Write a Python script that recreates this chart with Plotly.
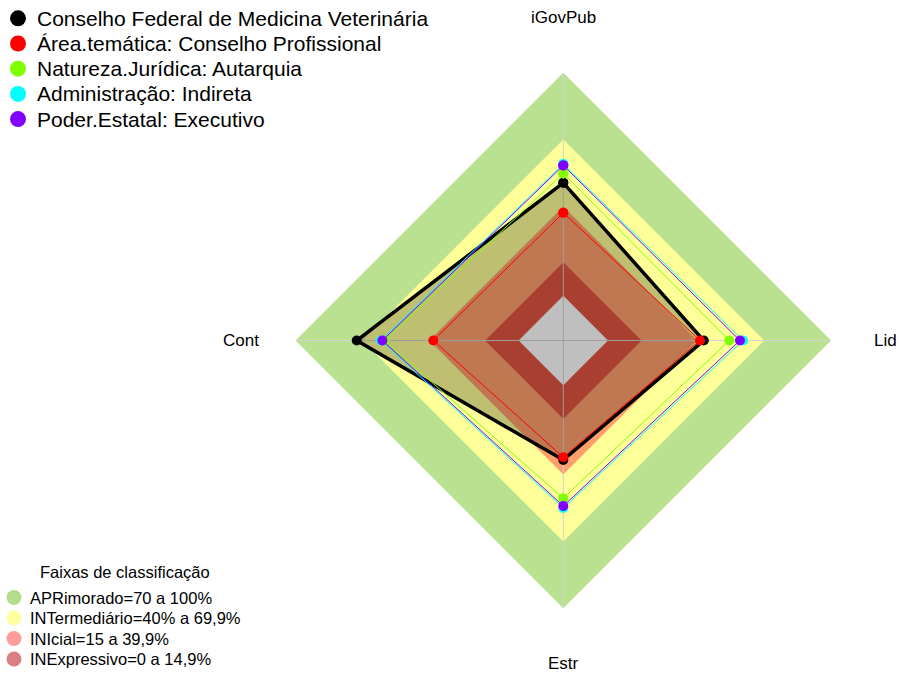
import plotly.graph_objects as go

axes = ["iGovPub", "Lid", "Estr", "Cont"]

series_names = [
    "Conselho Federal de Medicina Veterinária",
    "Área.temática: Conselho Profissional",
    "Natureza.Jurídica: Autarquia",
    "Administração: Indireta",
    "Poder.Estatal: Executivo",
]
cfmv = [50.6, 42.9, 33.5, 72.5]
area_tematica = [37.2, 41.2, 32.3, 38.2]
natureza = [54.8, 54.3, 50.7, 60.0]
administracao = [59.0, 60.5, 55.0, 61.7]
poder = [58.4, 59.1, 54.1, 61.0]
series_values = [cfmv, area_tematica, natureza, administracao, poder]
series_colors = ["#000000", "#ff0000", "#80ff00", "#00ffff", "#8000ff"]
series_widths = [3.5, 1, 1, 1, 1]

band_title = "Faixas de classificação"
band_names = [
    "APRimorado=70 a 100%",
    "INTermediário=40% a 69,9%",
    "INIcial=15 a 39,9%",
    "INExpressivo=0 a 14,9%",
]
band_upper = [100, 70, 40, 15, 0]
band_fill = ["#bae190", "#ffff99", "#ffa06c", "#e05540", "#ffffff"]
band_legend_colors = ["#b3dd8a", "#ffffa0", "#ff9c9c", "#d98080"]

R_MIN, R_MAX = -20, 100

FONT = "Liberation Sans, Arial, sans-serif"
W, H = 899, 675
cx, cy, rad = 563.3, 340.5, 268
label_off = 322.5

fig = go.Figure()
closed_theta = axes + [axes[0]]

# classification bands
for up, col in zip(band_upper, band_fill):
    fig.add_trace(go.Scatterpolar(
        r=[up] * 5, theta=closed_theta, mode="lines", fill="toself",
        fillcolor=col, line=dict(width=0, color=col),
        hoverinfo="skip", showlegend=False))

# spokes
for pair in [(axes[0], axes[2]), (axes[1], axes[3])]:
    fig.add_trace(go.Scatterpolar(
        r=[R_MAX, R_MAX], theta=list(pair), mode="lines",
        line=dict(color="#d3d3d3", width=1),
        hoverinfo="skip", showlegend=False))

# series
for i, (name, vals, col, w) in enumerate(zip(series_names, series_values, series_colors, series_widths)):
    fig.add_trace(go.Scatterpolar(
        r=vals + [vals[0]], theta=closed_theta, mode="lines+markers",
        fill="toself" if i == 0 else None,
        fillcolor="rgba(0,0,0,0.25)" if i == 0 else None,
        line=dict(color=col, width=w),
        marker=dict(color=col, size=10),
        name=name, showlegend=False))

shapes = []
annotations = []

def px_x(x):
    return x / W

def px_y(y):
    return 1 - y / H

def add_dot(x, y, d, color):
    shapes.append(dict(type="circle", xref="paper", yref="paper",
                       xsizemode="pixel", ysizemode="pixel",
                       xanchor=px_x(x), yanchor=px_y(y),
                       x0=-d / 2, x1=d / 2, y0=-d / 2, y1=d / 2,
                       fillcolor=color, line=dict(width=0)))

def add_text(x, y, text, size, xanchor="left"):
    annotations.append(dict(xref="paper", yref="paper", x=px_x(x), y=px_y(y),
                            text=text, showarrow=False, xanchor=xanchor,
                            yanchor="middle", borderpad=0,
                            font=dict(size=size, family=FONT, color="black")))

# series legend (top-left)
for k, (name, col) in enumerate(zip(series_names, series_colors)):
    yy = 18.3 + k * 25.2
    add_dot(18, yy, 16, col)
    add_text(36, yy, name, 21)

# band legend (bottom-left)
add_text(124.5, 572, band_title, 16.5, xanchor="center")
for k, (name, col) in enumerate(zip(band_names, band_legend_colors)):
    yy = 597.5 + k * 20.5
    add_dot(14, yy, 15, col)
    add_text(29, yy, name, 16.5)

# axis labels
dirs = {"iGovPub": (0, -1), "Lid": (1, 0), "Estr": (0, 1), "Cont": (-1, 0)}
for a in axes:
    dx, dy = dirs[a]
    add_text(cx + dx * label_off, cy + dy * label_off, a, 17, xanchor="center")

fig.update_layout(
    width=W, height=H,
    margin=dict(l=0, r=0, t=0, b=0, autoexpand=False),
    paper_bgcolor="white", plot_bgcolor="white",
    font=dict(family=FONT, color="black"),
    showlegend=False,
    polar=dict(
        domain=dict(x=[(cx - rad) / W, (cx + rad) / W],
                    y=[(H - cy - rad) / H, (H - cy + rad) / H]),
        gridshape="linear",
        bgcolor="rgba(0,0,0,0)",
        radialaxis=dict(range=[R_MIN, R_MAX], visible=False, showgrid=False),
        angularaxis=dict(type="category", categoryarray=axes, direction="clockwise",
                         rotation=90, visible=False, showgrid=False,
                         showline=False, showticklabels=False, ticks=""),
    ),
    shapes=shapes,
    annotations=annotations,
)

fig.write_html(
    "out.html",
    config={"displayModeBar": False},
    post_script="document.body.style.margin='0';document.body.style.padding='0';"
                "document.documentElement.style.margin='0';",
)
